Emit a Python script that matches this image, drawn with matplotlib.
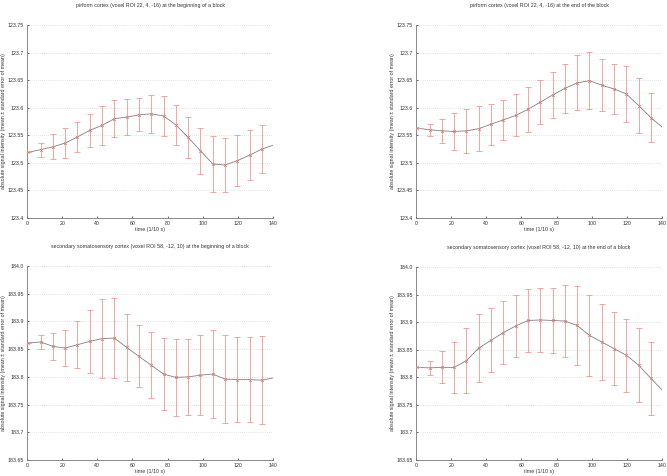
import matplotlib
matplotlib.use("Agg")
import matplotlib.pyplot as plt

plt.rcParams['font.family'] = ['Liberation Sans', 'DejaVu Sans']

# sample times (1/10 s), same for all four panels
t = [0.7, 7.7, 14.7, 21.7, 28.7, 35.7, 42.7, 49.7, 56.7, 63.7,
     70.7, 77.7, 84.7, 91.7, 98.7, 105.7, 112.7, 119.7, 126.7, 133.7]
t_end = 140

# piriform cortex, beginning of block
pir_begin = [123.519, 123.524, 123.529, 123.536, 123.547, 123.559, 123.568, 123.580, 123.583, 123.587,
             123.589, 123.585, 123.569, 123.546, 123.522, 123.498, 123.496, 123.504, 123.514, 123.525]
pir_begin_err = [0, 0.0127, 0.0225, 0.027, 0.027, 0.030, 0.035, 0.034, 0.032, 0.030,
                 0.034, 0.036, 0.036, 0.037, 0.042, 0.050, 0.049, 0.046, 0.045, 0.044]
pir_begin_end = 123.532

# piriform cortex, end of block
pir_end = [123.563, 123.560, 123.558, 123.557, 123.558, 123.562, 123.570, 123.578, 123.586, 123.597,
           123.610, 123.623, 123.635, 123.645, 123.649, 123.641, 123.634, 123.625, 123.604, 123.582]
pir_end_err = [0, 0.011, 0.022, 0.033, 0.040, 0.041, 0.037, 0.036, 0.038, 0.041,
               0.040, 0.041, 0.045, 0.050, 0.052, 0.047, 0.046, 0.050, 0.049, 0.045]
pir_end_end = 123.565

# secondary somatosensory cortex, beginning of block
s2_begin = [183.861, 183.863, 183.855, 183.852, 183.858, 183.864, 183.869, 183.870, 183.853, 183.837,
            183.821, 183.805, 183.799, 183.800, 183.803, 183.805, 183.796, 183.795, 183.795, 183.794]
s2_begin_err = [0, 0.013, 0.0245, 0.0325, 0.042, 0.0575, 0.071, 0.0725, 0.061, 0.056,
                0.060, 0.065, 0.069, 0.069, 0.072, 0.080, 0.080, 0.077, 0.077, 0.079]
s2_begin_end = 183.798

# secondary somatosensory cortex, end of block
s2_end = [183.818, 183.817, 183.818, 183.818, 183.830, 183.853, 183.867, 183.881, 183.893, 183.903,
          183.904, 183.903, 183.902, 183.894, 183.876, 183.864, 183.852, 183.840, 183.822, 183.798]
s2_end_err = [0, 0.013, 0.029, 0.0465, 0.059, 0.062, 0.058, 0.057, 0.057, 0.0575,
              0.0575, 0.059, 0.065, 0.0715, 0.073, 0.0685, 0.066, 0.0665, 0.067, 0.0655]
s2_end_end = 183.777

pir_ticks = [123.4, 123.45, 123.5, 123.55, 123.6, 123.65, 123.7, 123.75]
pir_labels = ['123.4', '123.45', '123.5', '123.55', '123.6', '123.65', '123.7', '123.75']
s2_ticks = [183.65, 183.7, 183.75, 183.8, 183.85, 183.9, 183.95, 184.0]
s2_labels = ['183.65', '183.7', '183.75', '183.8', '183.85', '183.9', '183.95', '184.0']

panels = [
    ("pirform cortex (voxel ROI 22, 4, -16) at the beginning of a block",
     pir_begin, pir_begin_err, pir_begin_end, pir_ticks, pir_labels,
     [27, 25, 273, 218]),
    ("pirform cortex (voxel ROI 22, 4, -16) at the end of the block",
     pir_end, pir_end_err, pir_end_end, pir_ticks, pir_labels,
     [416, 25, 662, 218]),
    ("secondary somatosensory cortex (voxel ROI 58, -12, 10) at the beginning of a block",
     s2_begin, s2_begin_err, s2_begin_end, s2_ticks, s2_labels,
     [27, 266, 273, 460]),
    ("secondary somatosensory cortex (voxel ROI 58, -12, 10) at the end of a block",
     s2_end, s2_end_err, s2_end_end, s2_ticks, s2_labels,
     [416, 267, 662, 460]),
]

W, H = 667, 476
fig = plt.figure(figsize=(W / 100, H / 100), dpi=100)
fs = 3.8
txt = '#333333'
bar_col = '#ec9a8e'

for title, vals, errs, last, ticks, labels, (x0, y0, x1, y1) in panels:
    ax = fig.add_axes([x0 / W, 1 - y1 / H, (x1 - x0) / W, (y1 - y0) / H])
    ax.plot(t + [t_end], vals + [last], color='#808080', lw=0.6, zorder=2)
    ax.errorbar(t, vals, yerr=errs, fmt='none', ecolor=bar_col, elinewidth=0.6,
                capsize=2.5, capthick=0.6, zorder=3)
    ax.plot(t, vals, 'x', color='#d9796e', ms=2, mew=0.5, zorder=4)

    ax.set_xlim(0, 140)
    ax.set_ylim(ticks[0], ticks[-1])
    ax.set_xticks(range(0, 141, 20))
    ax.set_yticks(ticks)
    ax.set_yticklabels(labels)
    ax.yaxis.grid(True, linestyle=(0, (1, 2)), color='#c8c8c8', lw=0.5)
    ax.set_axisbelow(True)
    for s in ['top', 'right']:
        ax.spines[s].set_visible(False)
    for s in ['left', 'bottom']:
        ax.spines[s].set_color('#777777')
        ax.spines[s].set_linewidth(0.6)
    ax.tick_params(labelsize=fs, colors=txt, length=1.5, width=0.5, direction='in', pad=2)
    ax.set_title(title, fontsize=fs, color=txt, pad=13)
    ax.set_xlabel('time (1/10 s)', fontsize=fs, color=txt, labelpad=1)
    ax.set_ylabel('absolute signal intensity (mean \u00b1 standard error of mean)',
                  fontsize=fs, color=txt, labelpad=1.5)

fig.savefig('out.png', dpi=100)
